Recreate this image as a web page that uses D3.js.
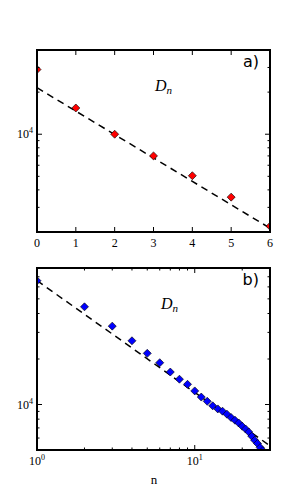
<!DOCTYPE html>
<html><head><meta charset="utf-8">
<script src="https://cdn.jsdelivr.net/npm/d3@7"></script>
<style>body{margin:0;background:#fff;} svg{display:block;} text{fill:#000;}</style>
</head><body>
<svg id="c" width="300" height="500"></svg>
<script>
// Panel a data (linear n, log D)
const nA = [0, 1, 2, 3, 4, 5, 6];
const dA = [29000, 15400, 10000, 7000, 5050, 3550, 2200];
const fitNA = [0, 6];
const fitDA = [21500, 2130];
const xTicksA = [0, 1, 2, 3, 4, 5, 6];

// Panel b data (log n, log D)
const nB = [1,2,3,4,5,6,7,8,9,10,11,12,13,14,15,16,17,18,19,20,21,22,23,24,25,26,27];
const dB = [65900,44300,33000,26400,21800,18900,16400,14700,13600,12300,11200,10500,9800,9350,9030,8630,8200,7870,7550,7180,6890,6580,6170,5800,5520,5190,4950];
const fitNB = [1, 30];
const fitDB = [66000, 5330];

const svg = d3.select("#c");
const serif = "'Liberation Serif', 'DejaVu Serif', serif";

function panel(id, top, bottom, xs, ys, xTickVals, xMinor, xFmt, yMajor, yMinor, nData, dData, fitN, fitD, color, tag, dnX) {
  const left = 37, right = 270;
  const g = svg.append("g");
  const clipId = "clip" + id;
  g.append("clipPath").attr("id", clipId).append("rect")
    .attr("x", left).attr("y", top).attr("width", right - left).attr("height", bottom - top);
  const plot = g.append("g").attr("clip-path", `url(#${clipId})`);
  const line = d3.line().x((d, i) => xs(fitN[i])).y((d, i) => ys(fitD[i]));
  plot.append("path").datum(fitN).attr("d", line)
    .attr("fill", "none").attr("stroke", "#000").attr("stroke-width", 1.5)
    .attr("stroke-dasharray", "7,5");
  const sym = d3.symbol().type(d3.symbolSquare).size(32);
  plot.selectAll("path.pt").data(nData).join("path").attr("class", "pt")
    .attr("d", sym)
    .attr("transform", (d, i) => `translate(${xs(d)},${ys(dData[i])}) rotate(45)`)
    .attr("fill", color).attr("stroke", "#000").attr("stroke-width", 0.6);

  // ticks (inward) on all sides
  const tk = g.append("g").attr("stroke", "#000").attr("stroke-width", 1);
  xTickVals.forEach(v => {
    const x = xs(v);
    tk.append("line").attr("x1", x).attr("x2", x).attr("y1", bottom).attr("y2", bottom - 5);
    tk.append("line").attr("x1", x).attr("x2", x).attr("y1", top).attr("y2", top + 5);
  });
  xMinor.forEach(v => {
    const x = xs(v);
    tk.append("line").attr("x1", x).attr("x2", x).attr("y1", bottom).attr("y2", bottom - 2.5);
    tk.append("line").attr("x1", x).attr("x2", x).attr("y1", top).attr("y2", top + 2.5);
  });
  yMajor.forEach(v => {
    const y = ys(v);
    tk.append("line").attr("x1", left).attr("x2", left + 5).attr("y1", y).attr("y2", y);
    tk.append("line").attr("x1", right).attr("x2", right - 5).attr("y1", y).attr("y2", y);
  });
  yMinor.forEach(v => {
    const y = ys(v);
    tk.append("line").attr("x1", left).attr("x2", left + 2.5).attr("y1", y).attr("y2", y);
    tk.append("line").attr("x1", right).attr("x2", right - 2.5).attr("y1", y).attr("y2", y);
  });

  g.append("rect").attr("x", left).attr("y", top).attr("width", right - left).attr("height", bottom - top)
    .attr("fill", "none").attr("stroke", "#000").attr("stroke-width", 2);

  // x tick labels
  xTickVals.forEach(v => {
    const t = g.append("text").attr("x", xs(v)).attr("y", bottom + 15)
      .attr("text-anchor", "middle").attr("font-family", serif).attr("font-size", 12).attr("fill", "#000");
    xFmt(t, v);
  });
  // y tick labels
  yMajor.forEach(v => {
    const t = g.append("text").attr("x", left - 4).attr("y", ys(v) + 4)
      .attr("text-anchor", "end").attr("font-family", serif).attr("font-size", 12).attr("fill", "#000");
    const e = Math.round(Math.log10(v));
    t.append("tspan").text("10");
    t.append("tspan").attr("font-size", 8).attr("dy", -5).text(e);
  });

  g.append("text").attr("x", right - 11).attr("y", top + 17).attr("text-anchor", "end").attr("fill", "#000")
    .attr("font-family", "'DejaVu Sans', sans-serif").attr("font-size", 16).text(tag);
  const dn = g.append("text").attr("x", dnX).attr("y", top + 41).attr("fill", "#000")
    .attr("font-family", serif).attr("font-style", "italic").attr("font-size", 16);
  dn.append("tspan").text("D");
  dn.append("tspan").attr("font-size", 11).attr("dy", 3).text("n");
}

// Panel a
const xA = d3.scaleLinear().domain([0, 6]).range([37, 270]);
const yA = d3.scaleLog().domain([2000, 40000]).range([232, 50]);
panel("a", 50, 232, xA, yA, xTicksA, [],
  (t, v) => t.text(v),
  [10000], [3000,4000,5000,6000,7000,8000,9000,20000,30000],
  nA, dA, fitNA, fitDA, "#ff0000", "a)", 155);

// Panel b
const xB = d3.scaleLog().domain([1, 30]).range([37, 270]);
const yB = d3.scaleLog().domain([5000, 80000]).range([450, 268]);
panel("b", 268, 450, xB, yB, [1, 10], [2,3,4,5,6,7,8,9,20,30],
  (t, v) => { t.append("tspan").text("10"); t.append("tspan").attr("font-size", 8).attr("dy", -5).text(Math.round(Math.log10(v))); },
  [10000], [6000,7000,8000,9000,20000,30000,40000,50000,60000,70000],
  nB, dB, fitNB, fitDB, "#0000ff", "b)", 161);

svg.append("text").attr("x", 154).attr("y", 484).attr("text-anchor", "middle").attr("fill", "#000")
  .attr("font-family", serif).attr("font-size", 13).text("n");
</script>
</body></html>
